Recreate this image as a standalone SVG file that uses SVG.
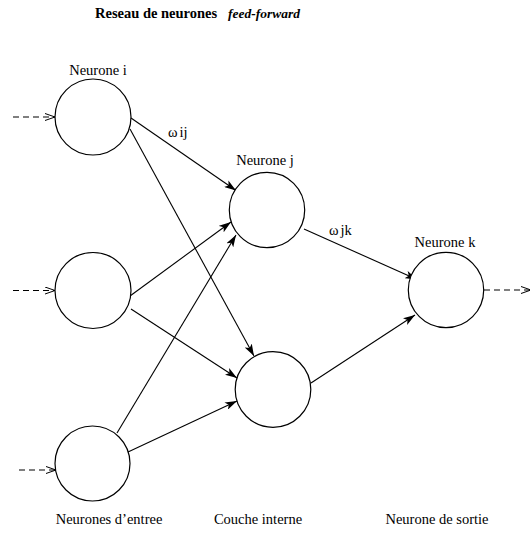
<svg xmlns="http://www.w3.org/2000/svg" width="530" height="533" viewBox="0 0 530 533">
<style>
text{font-family:"Liberation Serif","Times New Roman",serif;font-size:14.5px;fill:#000}
.title{font-weight:bold;font-size:14.5px}
.it{font-style:italic;font-weight:bold;font-size:13.5px}
circle{fill:#fff;stroke:#000;stroke-width:1.2}
.c{stroke:#000;stroke-width:1.1;fill:none}
.d{stroke:#000;stroke-width:1.1;fill:none;stroke-dasharray:6,4}
</style>
<defs>
<marker id="a" viewBox="0 0 12 8" refX="12" refY="4" markerWidth="12" markerHeight="8" markerUnits="userSpaceOnUse" orient="auto">
<path d="M0,0 L12,4 L0,8 L3,4 Z" fill="#000"/>
</marker>
<marker id="o" viewBox="0 0 10 8" refX="10" refY="4" markerWidth="10" markerHeight="8" markerUnits="userSpaceOnUse" orient="auto">
<path d="M0,0.5 L10,4 L0,7.5" fill="none" stroke="#000" stroke-width="1"/>
</marker>
</defs>
<text x="95" y="18" class="title">Reseau de neurones</text>
<text x="228" y="18" class="it">feed-forward</text>
<g id="connectors">
<path class="d" d="M13,117 L55,117" marker-end="url(#o)"/>
<path class="d" d="M13,290.5 L55,290.5" marker-end="url(#o)"/>
<path class="d" d="M19,470 L56,470" marker-end="url(#o)"/>
<path class="d" d="M484,290 L531,290" marker-end="url(#o)"/>
<path class="c" d="M131,118 L236,190.5" marker-end="url(#a)"/>
<path class="c" d="M130,129 L254,356" marker-end="url(#a)"/>
<path class="c" d="M130,296 L231,222" marker-end="url(#a)"/>
<path class="c" d="M131,309 L237,378" marker-end="url(#a)"/>
<path class="c" d="M117,433 L236,235" marker-end="url(#a)"/>
<path class="c" d="M128,452 L237,401" marker-end="url(#a)"/>
<path class="c" d="M304,229 L417,279.5" marker-end="url(#a)"/>
<path class="c" d="M311,383 L415,315" marker-end="url(#a)"/>
</g>
<g id="input1"><circle cx="93" cy="117" r="38"/><text x="98" y="75" text-anchor="middle">Neurone i</text></g>
<g id="input2"><circle cx="93" cy="290.5" r="38"/></g>
<g id="input3"><circle cx="92.5" cy="463.5" r="37.5"/></g>
<g id="hidden1"><circle cx="267" cy="210" r="37.7"/><text x="265" y="165" text-anchor="middle">Neurone j</text></g>
<g id="hidden2"><circle cx="273" cy="389.5" r="37.8"/></g>
<g id="output"><circle cx="446" cy="290" r="37.7"/><text x="445" y="247" text-anchor="middle">Neurone k</text></g>
<text x="168" y="137">ω<tspan dx="2">ij</tspan></text>
<text x="329" y="235">ω<tspan dx="2">jk</tspan></text>
<text x="109" y="524" text-anchor="middle">Neurones d’entree</text>
<text x="258" y="524" text-anchor="middle">Couche interne</text>
<text x="437" y="524" text-anchor="middle">Neurone de sortie</text>
</svg>
